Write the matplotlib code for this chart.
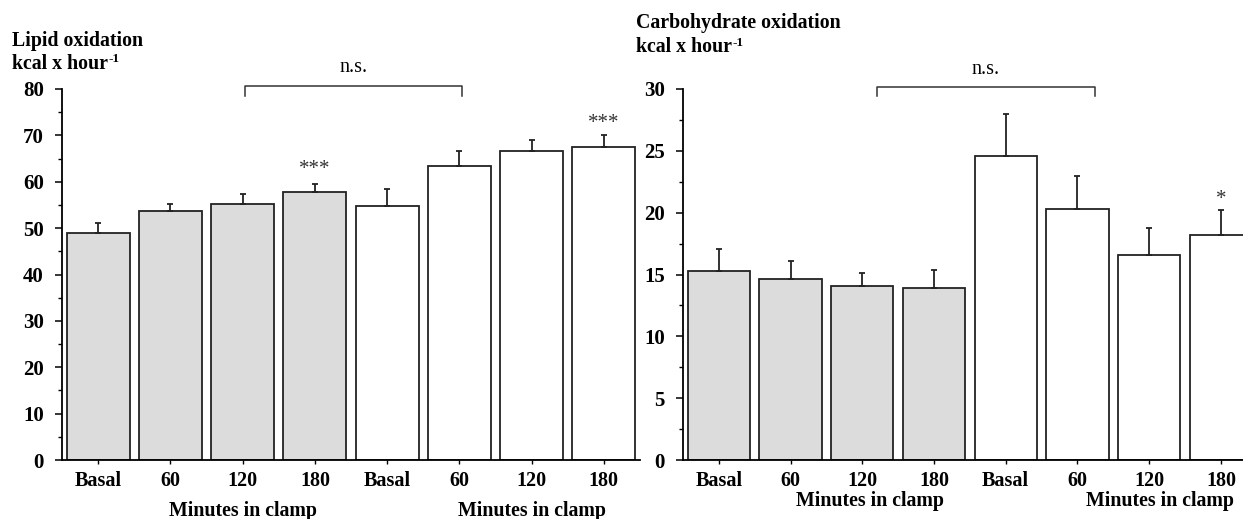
import numpy as np
import matplotlib
matplotlib.use("Agg")
import matplotlib.pyplot as plt

plt.rcParams['font.family'] = ['Liberation Serif', 'DejaVu Serif']

# ---- data ----
categories = ["Basal", "60", "120", "180", "Basal", "60", "120", "180"]
lipid_mean = [48.9, 53.7, 55.2, 57.8, 54.7, 63.4, 66.7, 67.4]
lipid_sem = [2.3, 1.5, 2.2, 1.7, 3.8, 3.2, 2.3, 2.6]
carb_mean = [15.25, 14.63, 14.04, 13.93, 24.6, 20.3, 16.6, 18.2]
carb_sem = [1.8, 1.5, 1.1, 1.45, 3.4, 2.7, 2.2, 2.0]
bar_colors = ["#dcdcdc"] * 4 + ["#ffffff"] * 4

W, H = 1243, 519
fig = plt.figure(figsize=(W / 100, H / 100), dpi=100)
renderer = fig.canvas.get_renderer()


def px_axes(x0, x1, y0, y1):
    return fig.add_axes([x0 / W, 1 - y1 / H, (x1 - x0) / W, (y1 - y0) / H])


def draw_panel(ax, means, sems, ymax, major, minor):
    x = np.arange(len(means))
    ax.bar(x, means, width=0.87, color=bar_colors, edgecolor="#222222",
           linewidth=1.3, zorder=2)
    ax.errorbar(x, means, yerr=[np.zeros(len(sems)), sems], fmt="none",
                ecolor="#222222", elinewidth=1.3, capsize=2.5, capthick=1.3,
                zorder=3)
    ax.set_xlim(-0.5, 7.5)
    ax.set_ylim(0, ymax)
    ax.set_yticks(np.arange(0, ymax + 0.01, major))
    ax.set_yticks(np.arange(0, ymax + 0.01, minor), minor=True)
    ax.set_xticks(x)
    ax.set_xticklabels(categories, fontsize=14.5, fontweight="bold")
    for lab in ax.get_yticklabels():
        lab.set_fontsize(15)
        lab.set_fontweight("bold")
    ax.spines["top"].set_visible(False)
    ax.spines["right"].set_visible(False)
    ax.spines["left"].set_linewidth(1.3)
    ax.spines["bottom"].set_linewidth(1.3)
    ax.tick_params(axis="y", which="major", direction="out", length=5,
                   width=1.1, pad=8)
    ax.tick_params(axis="y", which="minor", direction="out", length=3,
                   width=1.0)
    ax.tick_params(axis="x", which="major", direction="out", length=3,
                   width=1.0, pad=5)


def title_block(x_px, base1_px, base2_px, line1):
    fig.text(x_px / W, 1 - base1_px / H, line1, ha="left", va="baseline",
             fontsize=14.3, fontweight="bold")
    t = fig.text(x_px / W, 1 - base2_px / H, "kcal x hour", ha="left",
                 va="baseline", fontsize=14.3, fontweight="bold")
    bb = t.get_window_extent(renderer)
    fig.text((bb.x1 + 0.5) / W, 1 - (base2_px - 6.5) / H, "-1", ha="left",
             va="baseline", fontsize=9.5, fontweight="bold")


# ---- left panel ----
axL = px_axes(62, 640, 89, 460)
draw_panel(axL, lipid_mean, lipid_sem, 80, 10, 5)
br = dict(color="#333333", linewidth=1.1, clip_on=False)
axL.plot([2.03, 2.03, 5.04, 5.04], [78.5, 80.6, 80.6, 78.5], **br)
axL.text(3.53, 84.7, "n.s.", ha="center", va="center", fontsize=14.5,
         clip_on=False)
axL.text(3, 62.7, "***", ha="center", va="center", fontsize=15,
         color="#333333")
axL.text(7, 72.6, "***", ha="center", va="center", fontsize=15,
         color="#333333", clip_on=False)
axL.text(2.0, -11.0, "Minutes in clamp", ha="center", va="center",
         fontsize=14.3, fontweight="bold", clip_on=False)
axL.text(6.0, -11.0, "Minutes in clamp", ha="center", va="center",
         fontsize=14.3, fontweight="bold", clip_on=False)
title_block(12, 46, 69, "Lipid oxidation")

# ---- right panel ----
axR = px_axes(683, 1256.75, 89, 460)
draw_panel(axR, carb_mean, carb_sem, 30, 5, 2.5)
axR.plot([2.2, 2.2, 5.25, 5.25], [29.4, 30.15, 30.15, 29.4], **br)
axR.text(3.72, 31.6, "n.s.", ha="center", va="center", fontsize=14.5,
         clip_on=False)
axR.text(7, 21.1, "*", ha="center", va="center", fontsize=15,
         color="#333333", clip_on=False)
axR.text(2.1, -3.3, "Minutes in clamp", ha="center", va="center",
         fontsize=14.3, fontweight="bold", clip_on=False)
axR.text(6.15, -3.3, "Minutes in clamp", ha="center", va="center",
         fontsize=14.3, fontweight="bold", clip_on=False)
title_block(636, 28, 52, "Carbohydrate oxidation")

fig.savefig("out.png", dpi=100)
